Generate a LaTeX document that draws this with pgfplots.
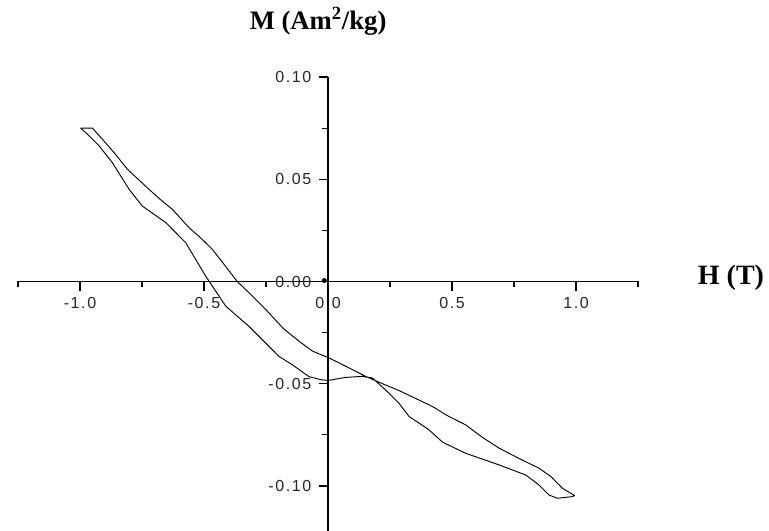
\documentclass[border=0pt]{standalone}
\usepackage{fontspec}
\setmainfont{Liberation Serif}
\newfontfamily\tickfont[LetterSpace=10]{Liberation Sans}
\usepackage{pgfplots}
\pgfplotsset{compat=1.18}

\begin{document}
\begin{tikzpicture}
\begin{axis}[
    scale only axis,
    width=465pt, height=340.5pt,
    axis lines=middle,
    axis line style={-, line width=0.9pt},
    xmin=-1.25, xmax=1.25,
    ymin=-0.122, ymax=0.10,
    xtick={-1,-0.5,0,0.5,1},
    minor xtick={-1.25,-0.75,-0.25,0.25,0.75,1.25},
    ytick={-0.1,-0.05,0,0.05,0.1},
    minor ytick={-0.075,-0.025,0.025,0.075},
    tick align=outside,
    major tick length=7pt, minor tick length=4.5pt,
    tick style={black, line width=0.8pt},
    hide obscured x ticks=false, hide obscured y ticks=false,
    scaled ticks=false,
    /pgf/number format/assume math mode=true,
    xticklabel style={yshift=-1.5pt, /pgf/number format/.cd, fixed, fixed zerofill, precision=1},
    yticklabel style={xshift=-2pt, /pgf/number format/.cd, fixed, fixed zerofill, precision=2},
    tick label style={font=\tickfont\fontsize{12}{14}\selectfont, text=black!85},
    xlabel={\textbf{H (T)}},
    ylabel={\textbf{M (Am\textsuperscript{2}/kg)}},
    xlabel style={at={(rel axis cs:1.15,0.5585)}, anchor=center, font=\fontsize{21}{24}\selectfont},
    ylabel style={at={(rel axis cs:0.484,1.1236)}, anchor=center, rotate=0, font=\fontsize{20}{24}\selectfont},
    clip=false,
]
% hysteresis loop
\addplot[black, line width=0.7pt, line join=round, no marks] coordinates {
    (0.995,-0.1047) (0.945,-0.1011) (0.900,-0.0955) (0.851,-0.0913)
    (0.770,-0.0865) (0.690,-0.0815) (0.620,-0.0760) (0.555,-0.0701)
    (0.480,-0.0655) (0.421,-0.0611) (0.350,-0.0570) (0.286,-0.0533)
    (0.220,-0.0500) (0.152,-0.0464) (0.100,-0.0432) (0.040,-0.0395)
    (0.004,-0.0374) (-0.063,-0.0340) (-0.117,-0.0292) (-0.180,-0.0230)
    (-0.251,-0.0137) (-0.310,-0.0065) (-0.366,0.0000) (-0.420,0.0085)
    (-0.466,0.0157) (-0.515,0.0215) (-0.560,0.0263) (-0.628,0.0353)
    (-0.675,0.0400) (-0.722,0.0451) (-0.770,0.0505) (-0.809,0.0549)
    (-0.863,0.0631) (-0.910,0.0696) (-0.950,0.0750) (-0.997,0.0750)
    (-0.970,0.0720) (-0.923,0.0663) (-0.870,0.0582) (-0.802,0.0451)
    (-0.749,0.0369) (-0.654,0.0288) (-0.574,0.0190) (-0.493,0.0026)
    (-0.412,-0.0121) (-0.319,-0.0219) (-0.238,-0.0317) (-0.198,-0.0366)
    (-0.144,-0.0407) (-0.077,-0.0465) (-0.030,-0.0480) (0.000,-0.0484)
    (0.071,-0.0469) (0.138,-0.0464) (0.179,-0.0472) (0.246,-0.0546)
    (0.286,-0.0595) (0.327,-0.0660) (0.407,-0.0725) (0.461,-0.0785)
    (0.555,-0.0840) (0.690,-0.0897) (0.797,-0.0946) (0.851,-0.0995)
    (0.891,-0.1044) (0.925,-0.1060) (0.985,-0.1052) (0.995,-0.1047)
};
% small blob at the origin
\addplot[only marks, mark=*, mark size=1.6pt, black] coordinates {(-0.015,0.0005)};
\coordinate (bl) at (rel axis cs:0,0);
\end{axis}
\pgfresetboundingbox
\path[use as bounding box] ([xshift=-13.5pt]bl) rectangle ([xshift=563.25pt,yshift=398.25pt]bl);
\end{tikzpicture}
\end{document}
